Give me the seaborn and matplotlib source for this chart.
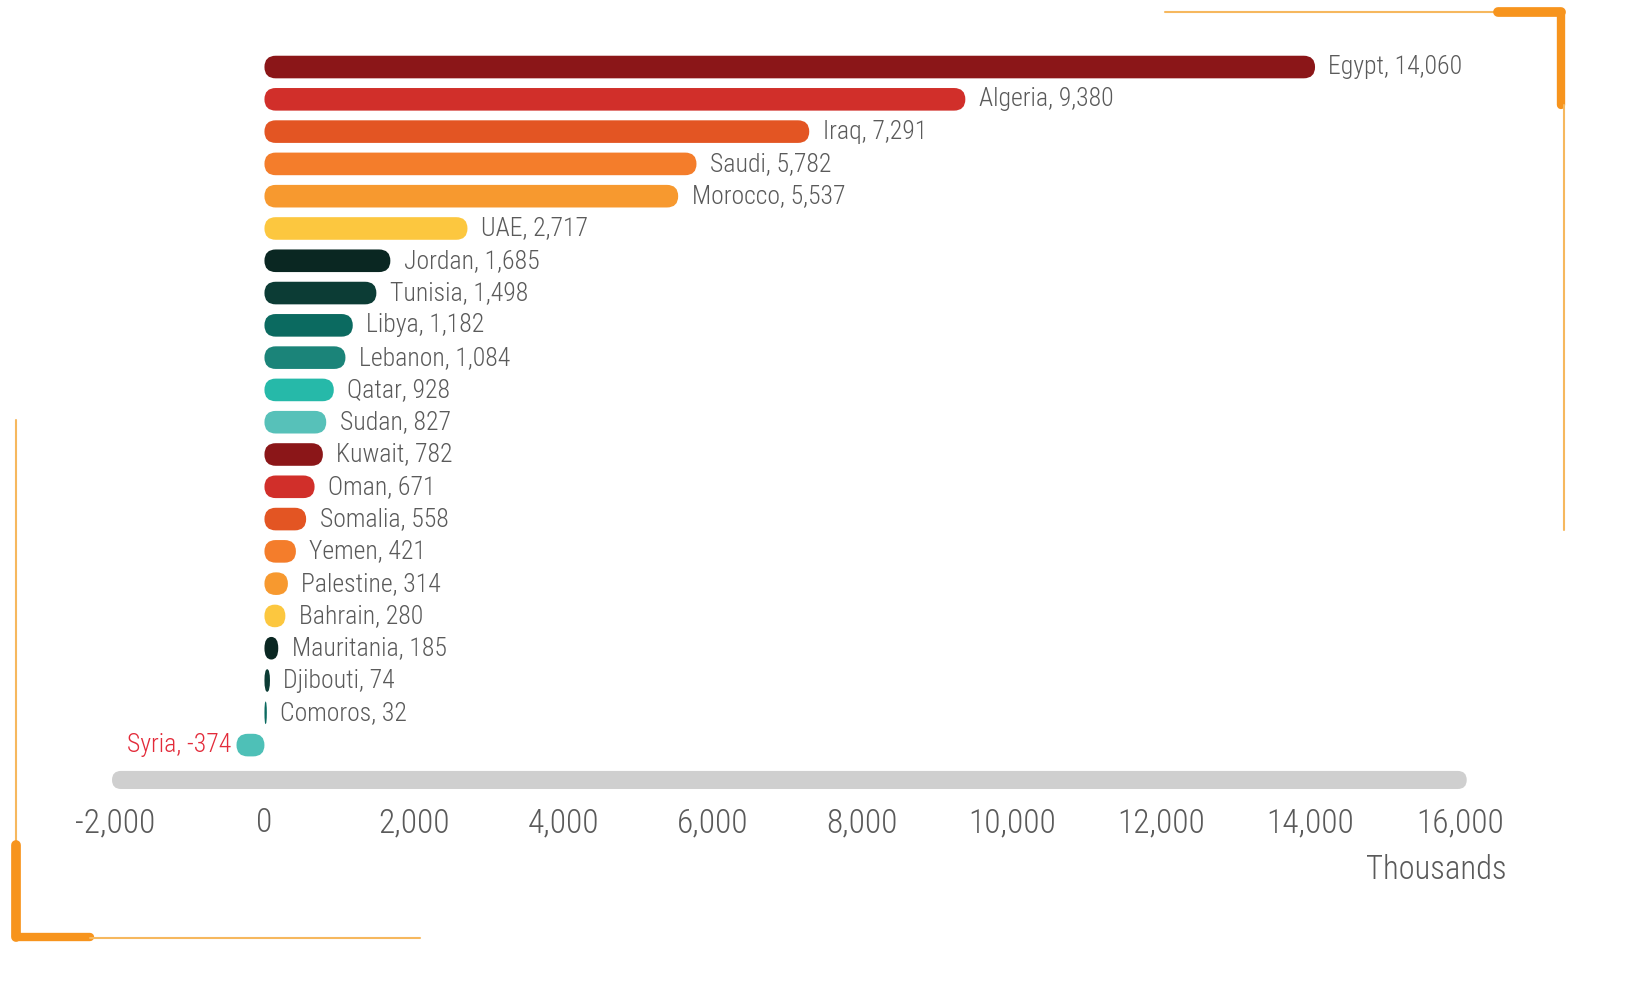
import numpy as np
import pandas as pd
import matplotlib.pyplot as plt
import seaborn as sns
from matplotlib.patches import FancyBboxPatch
from matplotlib.lines import Line2D
from matplotlib import font_manager

countries = ["Egypt", "Algeria", "Iraq", "Saudi", "Morocco", "UAE", "Jordan", "Tunisia",
             "Libya", "Lebanon", "Qatar", "Sudan", "Kuwait", "Oman", "Somalia", "Yemen",
             "Palestine", "Bahrain", "Mauritania", "Djibouti", "Comoros", "Syria"]
values = [14060, 9380, 7291, 5782, 5537, 2717, 1685, 1498, 1182, 1084, 928, 827,
          782, 671, 558, 421, 314, 280, 185, 74, 32, -374]
colors = ["#8B1618", "#D12F2A", "#E35523", "#F47D2B", "#F7992F", "#FCC73F",
          "#0A2722", "#0C3C35", "#0B6A60", "#1B8479", "#26B9A9", "#57C1B9",
          "#8B1618", "#D12F2A", "#E35523", "#F47D2B", "#F7992F", "#FCC73F",
          "#0A2722", "#0C3C35", "#0B6A60", "#4EC0B7"]
xticks = list(range(-2000, 16001, 2000))

df = pd.DataFrame({"country": countries, "value": values})

sns.set_theme(style="white")
names = {f.name for f in font_manager.fontManager.ttflist}
fam = [f for f in ["Roboto Condensed", "Liberation Sans Narrow", "Roboto"] if f in names]
plt.rcParams['font.family'] = fam + ["DejaVu Sans"]
plt.rcParams['font.weight'] = "light"

fig = plt.figure(figsize=(16.39, 9.84), dpi=100)
W, H = 1639, 984
# axes spans -2000..16000 horizontally, rows -0.8..22.4 vertically
ax = fig.add_axes([115 / W, 1 - 790.3 / H, 1345 / W, (790.3 - 41.2) / H])

sns.barplot(data=df, x="value", y="country", hue="country", order=countries,
            palette=dict(zip(countries, colors)), legend=False, width=0.7,
            orient="h", ax=ax, saturation=1)
ax.set_xlim(-2000, 16000)
ax.set_ylim(22.4, -0.8)

px_x = 1345 / 18000
px_y = (790.3 - 41.2) / 23.2


def rounded(x0, y0, w, h, color, clip=True):
    if w < 0:
        x0, w = x0 + w, -w
    r_px = min(h * px_y / 2, w * px_x / 2)
    rx = r_px / px_x
    ry = h / 2
    p = FancyBboxPatch((x0, y0), w, h,
                       boxstyle=f"round,pad=0,rounding_size={rx}",
                       mutation_aspect=ry / rx, facecolor=color,
                       edgecolor="none", clip_on=clip)
    ax.add_patch(p)


bars = list(ax.patches)
for b in bars:
    x0, y0, w, h = b.get_x(), b.get_y(), b.get_width(), b.get_height()
    c = b.get_facecolor()
    b.remove()
    rounded(x0, y0, w, h, c)

# grey axis band
rounded(-2040, 22.08 - 0.28, 18130, 0.56, "#CFCFCF", clip=False)

for i, (c, v) in enumerate(zip(countries, values)):
    if v >= 0:
        ax.text(v + 180, i, f"{c}, {v:,}", ha="left", va="center",
                fontsize=18.5, color="#5A5A5A")
    else:
        ax.text(v - 70, i, f"{c}, {v:,}", ha="right", va="center",
                fontsize=18.5, color="#E32B3A")

ax.set_xticks(xticks)
ax.set_xticklabels([f"{t:,}" for t in xticks], fontsize=24, color="#5A5A5A")
ax.tick_params(axis="x", length=0, pad=12)
ax.set_yticks([])
ax.set_xlabel("")
ax.set_ylabel("")
for s in ax.spines.values():
    s.set_visible(False)

fig.text(1507 / W, 1 - 870 / H, "Thousands", ha="right", va="center",
         fontsize=23.5, color="#5A5A5A")

# decorative corner frame
thin = "#F6B85E"
thick = "#F7941D"


def fl(xs, ys, c, lw):
    fig.add_artist(Line2D([x / W for x in xs], [1 - y / H for y in ys],
                          color=c, linewidth=lw, solid_capstyle="round"))


fl([1165, 1500], [12, 12], thin, 1.5)
fl([1498, 1561], [12, 12], thick, 7)
fl([1561, 1561], [12, 105], thick, 6)
fl([1564, 1564], [105, 530], thin, 1.5)
fl([16, 16], [420, 845], thin, 1.5)
fl([16, 16], [845, 937], thick, 7)
fl([16, 90], [937, 937], thick, 6)
fl([90, 420], [938, 938], thin, 1.5)

fig.savefig("out.png", dpi=100, facecolor="white")
